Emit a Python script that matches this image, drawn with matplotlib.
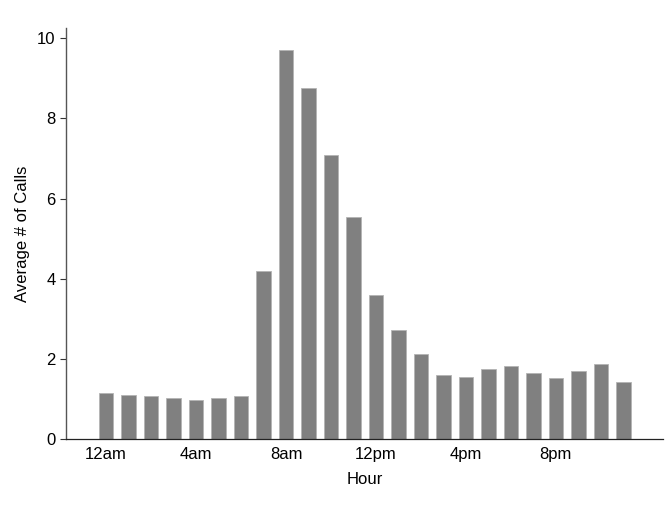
import matplotlib
matplotlib.use('Agg')
import matplotlib.pyplot as plt

plt.rcParams['font.family'] = ['Liberation Sans', 'DejaVu Sans']

# average calls per hour of day (0 = 12am)
hours = list(range(24))
avg_calls = [1.15, 1.09, 1.07, 1.02, 0.97, 1.02, 1.07, 4.20, 9.71, 8.77, 7.08, 5.53,
             3.59, 2.73, 2.13, 1.60, 1.55, 1.75, 1.82, 1.64, 1.53, 1.70, 1.88, 1.42]
tick_pos = [0, 4, 8, 12, 16, 20]
tick_labels = ['12am', '4am', '8am', '12pm', '4pm', '8pm']

fig = plt.figure(figsize=(6.67, 5.08), dpi=100)
ax = fig.add_axes([0.099, 0.136, 0.895, 0.809])

ax.bar(hours, avg_calls, width=0.64, color='#808080', edgecolor='#b4b4b4', linewidth=0.6)

ax.set_xlim(-1.78, 24.76)
ax.set_ylim(0, 10.26)
ax.set_xticks(tick_pos)
ax.set_xticklabels(tick_labels)
ax.set_yticks([0, 2, 4, 6, 8, 10])
ax.tick_params(axis='x', length=0, labelsize=12, pad=6)
ax.tick_params(axis='y', length=4.5, width=0.8, labelsize=12, pad=3, color='#333333')
ax.set_xlabel('Hour', fontsize=12, labelpad=7)
ax.set_ylabel('Average # of Calls', fontsize=12, labelpad=5)

ax.spines['top'].set_visible(False)
ax.spines['right'].set_visible(False)
ax.spines['left'].set_linewidth(1.0)
ax.spines['left'].set_color('#555555')
ax.spines['bottom'].set_linewidth(0.9)
ax.spines['bottom'].set_color('#222222')

plt.savefig('out.png', dpi=100)
